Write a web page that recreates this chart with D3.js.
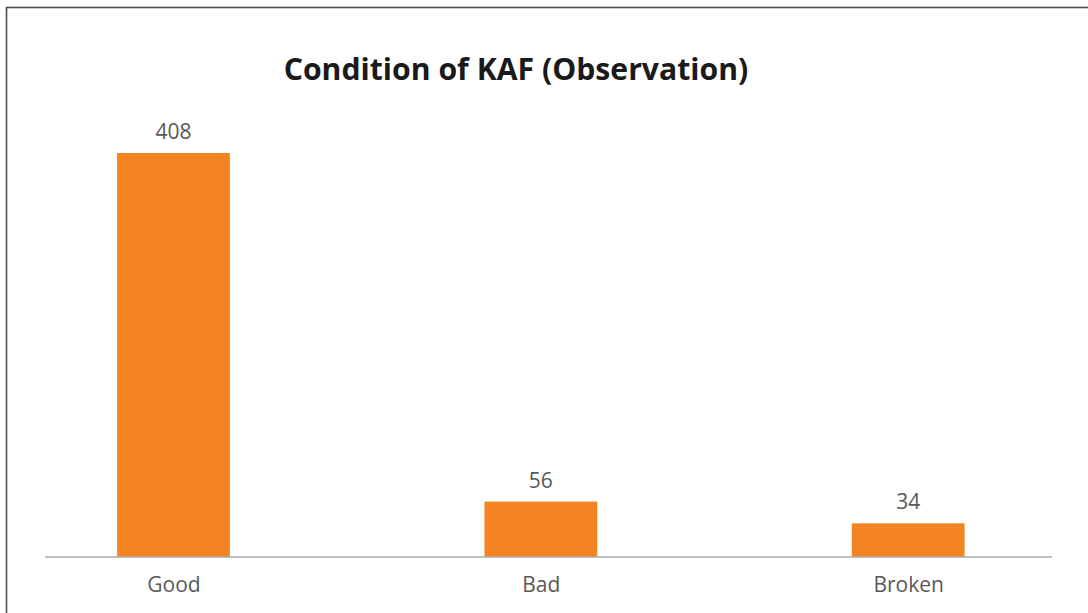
<!DOCTYPE html>
<html><head><meta charset="utf-8">
<script src="https://cdn.jsdelivr.net/npm/d3@7"></script>
<style>html,body{margin:0;padding:0;background:#fff;}svg{display:block;}</style>
</head><body>
<script>
const categories = ["Good", "Bad", "Broken"];
const values = [408, 56, 34];
const title = "Condition of KAF (Observation)";

const W = 1088, H = 613;
const svg = d3.select("body").append("svg").attr("width", W).attr("height", H);
svg.append("rect").attr("width", W).attr("height", H).attr("fill", "#fff");
// outer border
svg.append("rect").attr("x", 6.5).attr("y", 7.5).attr("width", W + 10).attr("height", H + 10)
  .attr("fill", "none").attr("stroke", "#4d4d4d").attr("stroke-width", 1.6);

const baseY = 557, topY = 153;
const x = d3.scalePoint().domain(categories).range([173.5, 908.2]);
const bw = x.step() * 0.307;
const y = d3.scaleLinear().domain([0, d3.max(values)]).range([baseY, topY]);

svg.append("text").attr("x", 516).attr("y", 80).attr("text-anchor", "middle")
  .attr("font-family", "Open Sans").attr("font-weight", 700).attr("font-size", 30.2)
  .attr("fill", "#1a1a1a").text(title);

const data = categories.map((c, i) => ({c, v: values[i]}));
svg.selectAll("rect.bar").data(data).join("rect").attr("class", "bar")
  .attr("x", d => x(d.c) - bw / 2).attr("width", bw)
  .attr("y", d => y(d.v)).attr("height", d => baseY - y(d.v))
  .attr("fill", "#f48422");

svg.selectAll("text.val").data(data).join("text").attr("class", "val")
  .attr("x", d => x(d.c)).attr("y", d => y(d.v) - 14).attr("text-anchor", "middle")
  .attr("font-family", "Open Sans").attr("font-size", 21).attr("fill", "#595959")
  .text(d => d.v);

const axis = d3.axisBottom(x).tickSize(0).tickPadding(20);
const g = svg.append("g").attr("transform", `translate(0,${baseY})`).call(axis);
g.select(".domain").remove();
g.append("line").attr("x1", 45).attr("x2", 1052).attr("y1", 0).attr("y2", 0)
  .attr("stroke", "#aaaaaa").attr("stroke-width", 1.5);
g.selectAll(".tick text").attr("font-family", "Open Sans").attr("font-size", 21)
  .attr("fill", "#595959").attr("dy", "0.71em");
</script>
</body></html>
